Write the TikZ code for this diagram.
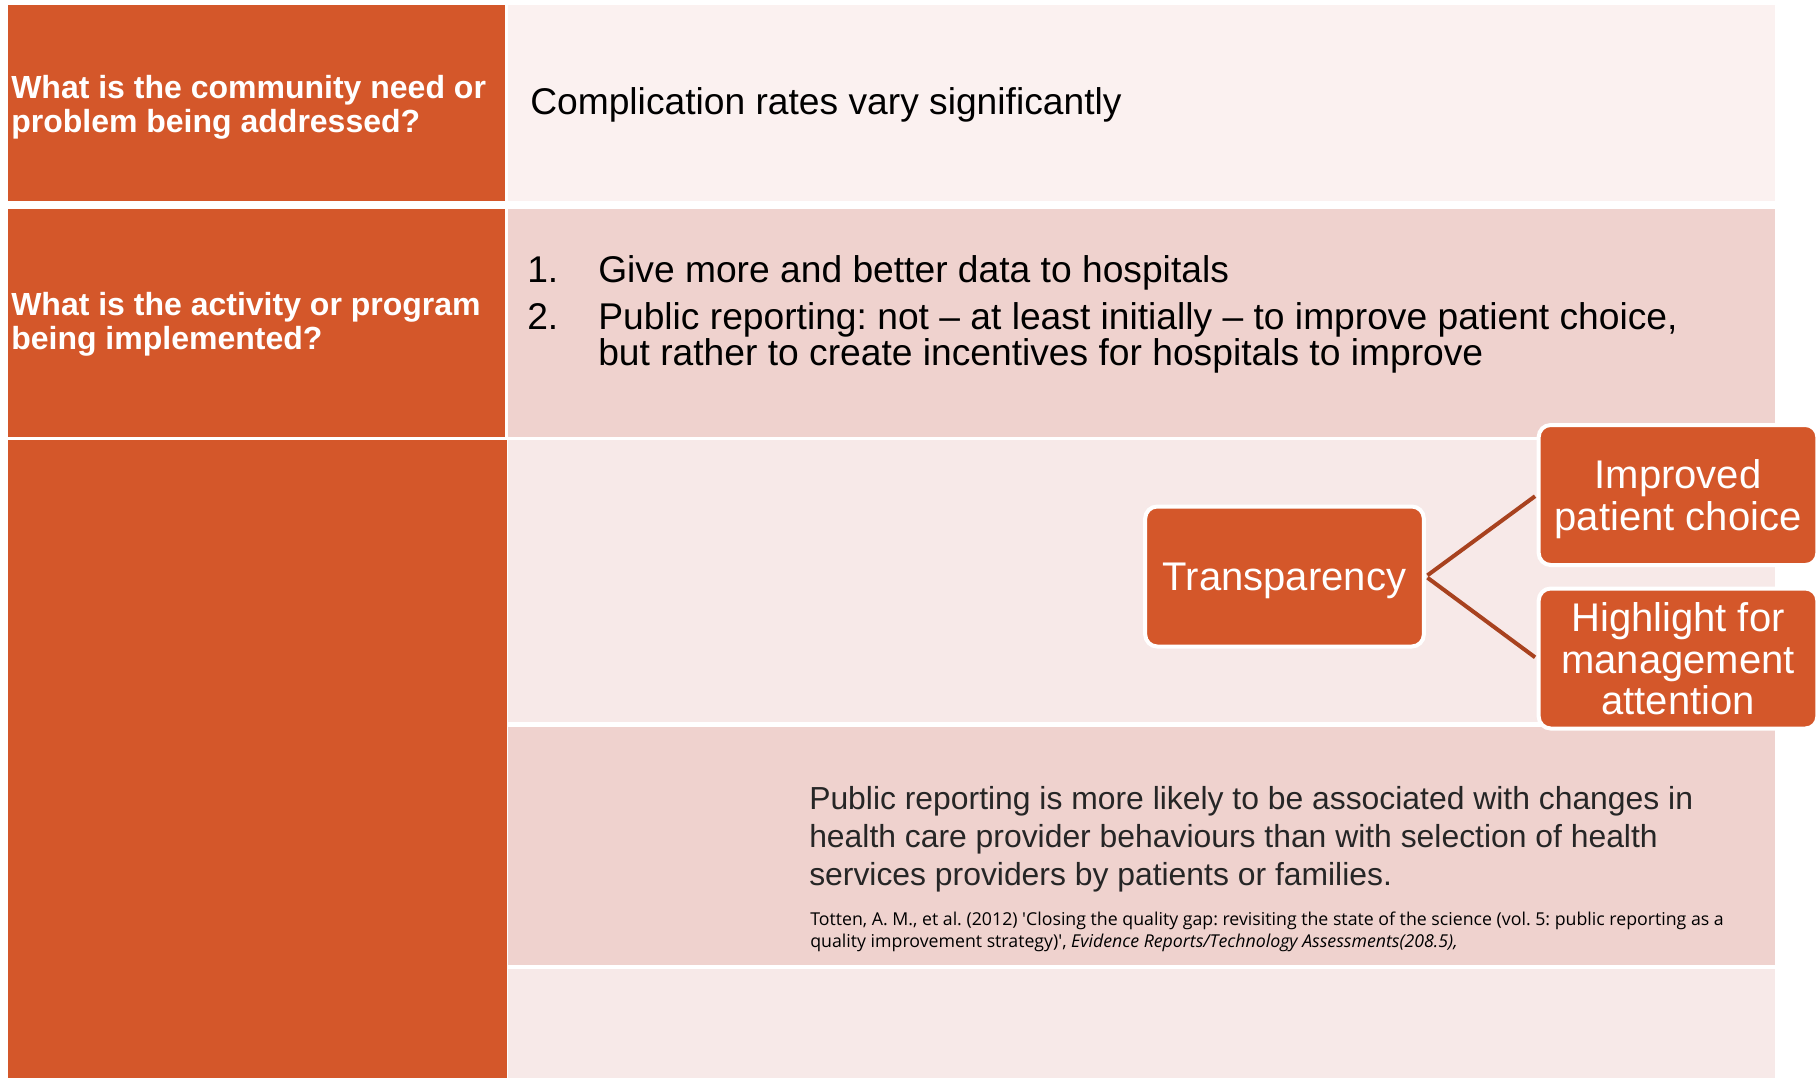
\documentclass[tikz,border=0pt]{standalone}
\usepackage{fontspec}
\setmainfont{Liberation Sans}
\newfontfamily\citefont{Open Sans}
\frenchspacing
\definecolor{accent}{HTML}{D4572A}
\definecolor{rowA}{HTML}{FBF1F0}
\definecolor{rowB}{HTML}{EFD2CE}
\definecolor{rowC}{HTML}{F7E9E8}
\definecolor{linkc}{HTML}{A8421F}
\definecolor{quotec}{HTML}{262626}

\begin{document}
\begin{tikzpicture}[x=0.75pt,y=-0.75pt,
    head/.style={anchor=west,inner sep=0pt,align=left,text=white,font=\bfseries\fontsize{24}{25.5}\selectfont},
    body/.style={anchor=west,inner sep=0pt,align=left,font=\fontsize{27.9}{27}\selectfont},
    box/.style={draw=white,line width=3pt,fill=accent,rounded corners=9pt,text=white,align=center,
        minimum width=209pt,minimum height=105pt,inner sep=0pt,text depth=0pt,font=\fontsize{30}{31}\selectfont},
    link/.style={draw=linkc,line width=3pt,shorten <=1.5pt,shorten >=1.5pt}]
    \useasboundingbox (0,0) rectangle (1817,1078);

    % 左列
    \fill[accent] (8,5) rectangle (505,201);
    \fill[accent] (8,209) rectangle (505,437);
    \fill[accent] (8,440) rectangle (507,1078);
    % 右列
    \fill[rowA] (508,5) rectangle (1775,201);
    \fill[rowB] (508,209) rectangle (1775,437);
    \fill[rowC] (508,440) rectangle (1775,722);
    \fill[rowB] (508,727) rectangle (1775,965);
    \fill[rowC] (508,969) rectangle (1775,1078);

    % 问题
    \node[head] (need) at (11,107) {What is the community need or\\problem being addressed?};
    \node[head] (activity) at (11,324.5) {What is the activity or program\\being implemented?};

    % 回答
    \node[body] (problem) at (530,104.5) {Complication rates vary significantly};
    \node[body,anchor=base west] (num1) at (527,282) {1.};
    \node[body,anchor=base west] (item1) at (598,282) {Give more and better data to hospitals};
    \node[body,anchor=base west] (num2) at (527,329) {2.};
    \node[body] (item2) at (598,337.5) {Public reporting: not – at least initially – to improve patient choice,\\but rather to create incentives for hospitals to improve};

    % 框图
    \node[box] (transp) at (1284.5,576.5) {Transparency};
    \node[box] (choice) at (1678,495) {Improved\\patient choice};
    \node[box] (mgmt) at (1678,658.5) {Highlight for\\management\\attention};
    \draw[link] (transp.east) -- (choice.west);
    \draw[link] (transp.east) -- (mgmt.west);

    % 引文
    \node[anchor=west,inner sep=0pt,align=left,text=quotec,font=\fontsize{23.9}{28.5}\selectfont] (finding) at (809,839.5)
        {Public reporting is more likely to be associated with changes in\\health care provider behaviours than with selection of health\\services providers by patients or families.};
    \node[anchor=west,inner sep=0pt,align=left,font=\citefont\fontsize{13.3}{16.5}\selectfont] (source) at (810,932)
        {Totten, A. M., et al. (2012) 'Closing the quality gap: revisiting the state of the science (vol. 5: public reporting as a\\quality improvement strategy)', \textit{Evidence Reports/Technology Assessments(208.5),}};
\end{tikzpicture}
\end{document}
